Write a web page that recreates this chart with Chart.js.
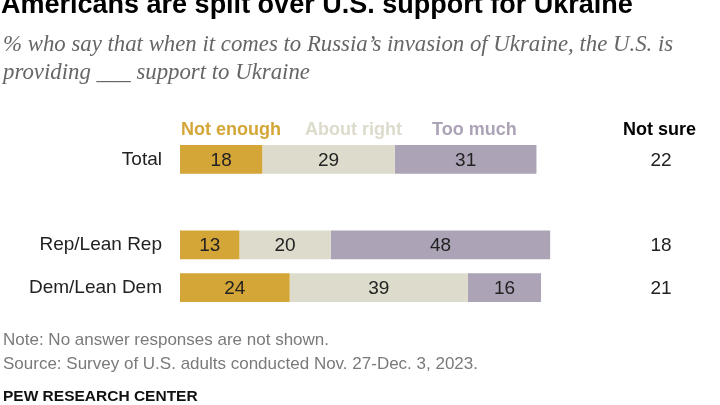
<!DOCTYPE html>
<html>
<head>
<meta charset="utf-8">
<script src="https://cdn.jsdelivr.net/npm/chart.js@4"></script>
<style>
  html, body { margin: 0; padding: 0; background: #fff; }
  body { width: 720px; height: 405px; position: relative; overflow: hidden; font-family: "Liberation Sans", Arial, sans-serif; }
  #chart { position: absolute; left: 0; top: 0; }
  .txt { position: absolute; white-space: nowrap; }
  #title { left: 1px; top: -11px; font-size: 27px; font-weight: bold; color: #000; }
  .sub { left: 3px; font-family: "Liberation Serif", serif; font-style: italic; font-size: 22.8px; color: #666; }
  .leg { top: 119px; font-size: 18px; font-weight: bold; }
  .note { left: 3px; font-size: 17px; color: #7a7a7a; }
  #pew { left: 3px; top: 387px; font-size: 15.5px; font-weight: bold; color: #111; }
</style>
</head>
<body>
<canvas id="chart" width="720" height="405"></canvas>
<div class="txt" id="title">Americans are split over U.S. support for Ukraine</div>
<div class="txt sub" style="top:31px">% who say that when it comes to Russia’s invasion of Ukraine, the U.S. is</div>
<div class="txt sub" style="top:59px">providing ___ support to Ukraine</div>
<div class="txt leg" style="left:181px;color:#d4a537">Not enough</div>
<div class="txt leg" style="left:305px;color:#dddbcc">About right</div>
<div class="txt leg" style="left:432px;color:#aca3b7">Too much</div>
<div class="txt leg" style="left:623px;color:#000">Not sure</div>
<div class="txt note" style="top:330px">Note: No answer responses are not shown.</div>
<div class="txt note" style="top:354px">Source: Survey of U.S. adults conducted Nov. 27-Dec. 3, 2023.</div>
<div class="txt" id="pew">PEW RESEARCH CENTER</div>
<script>
// donnees
const categories = ['Total', '', 'Rep/Lean Rep', 'Dem/Lean Dem'];
const notEnough = [18, null, 13, 24];
const aboutRight = [29, null, 20, 39];
const tooMuch = [31, null, 48, 16];
const notSure = [22, null, 18, 21];

const colors = {
    notEnough: '#d4a537',
    aboutRight: '#dddbcc',
    tooMuch: '#aca3b7'
};

const labelFont = '19px "Liberation Sans", Arial, sans-serif';

// numeros au centre de chaque segment
const barLabels = {
    id: 'barLabels',
    afterDatasetsDraw(chart) {
        const ctx = chart.ctx;
        ctx.save();
        ctx.font = labelFont;
        ctx.fillStyle = '#222';
        ctx.textAlign = 'center';
        ctx.textBaseline = 'middle';
        chart.data.datasets.forEach((ds, di) => {
            chart.getDatasetMeta(di).data.forEach((bar, i) => {
                const v = ds.data[i];
                if (v == null) return;
                const x = (bar.x + bar.base) / 2;
                ctx.fillText(String(v), x, bar.y + 1);
            });
        });
        ctx.restore();
    }
};

// colonne "Not sure" a droite
const notSureColumn = {
    id: 'notSureColumn',
    afterDatasetsDraw(chart) {
        const ctx = chart.ctx;
        const yScale = chart.scales.y;
        ctx.save();
        ctx.font = labelFont;
        ctx.fillStyle = '#222';
        ctx.textAlign = 'center';
        ctx.textBaseline = 'middle';
        notSure.forEach((v, i) => {
            if (v == null) return;
            ctx.fillText(String(v), 661, yScale.getPixelForValue(i) + 1);
        });
        ctx.restore();
    }
};

function makeDataset(label, data, color) {
    return {
        label: label,
        data: data,
        backgroundColor: color,
        borderWidth: 0,
        barPercentage: 0.678,
        categoryPercentage: 1.0
    };
}

new Chart(document.getElementById('chart'), {
    type: 'bar',
    data: {
        labels: categories,
        datasets: [
            makeDataset('Not enough', notEnough, colors.notEnough),
            makeDataset('About right', aboutRight, colors.aboutRight),
            makeDataset('Too much', tooMuch, colors.tooMuch)
        ]
    },
    options: {
        indexAxis: 'y',
        responsive: false,
        animation: false,
        devicePixelRatio: 1,
        layout: { padding: { left: 0, right: 83, top: 138, bottom: 96 } },
        plugins: {
            legend: { display: false },
            tooltip: { enabled: false },
            title: { display: false }
        },
        scales: {
            x: {
                stacked: true,
                display: false,
                min: 0,
                max: 100
            },
            y: {
                stacked: true,
                grid: { display: false, drawTicks: false },
                border: { display: false },
                ticks: {
                    color: '#222',
                    font: { family: '"Liberation Sans", Arial, sans-serif', size: 19 },
                    padding: 18
                },
                afterFit(scale) {
                    scale.width = 180;
                }
            }
        }
    },
    plugins: [barLabels, notSureColumn]
});
</script>
</body>
</html>
